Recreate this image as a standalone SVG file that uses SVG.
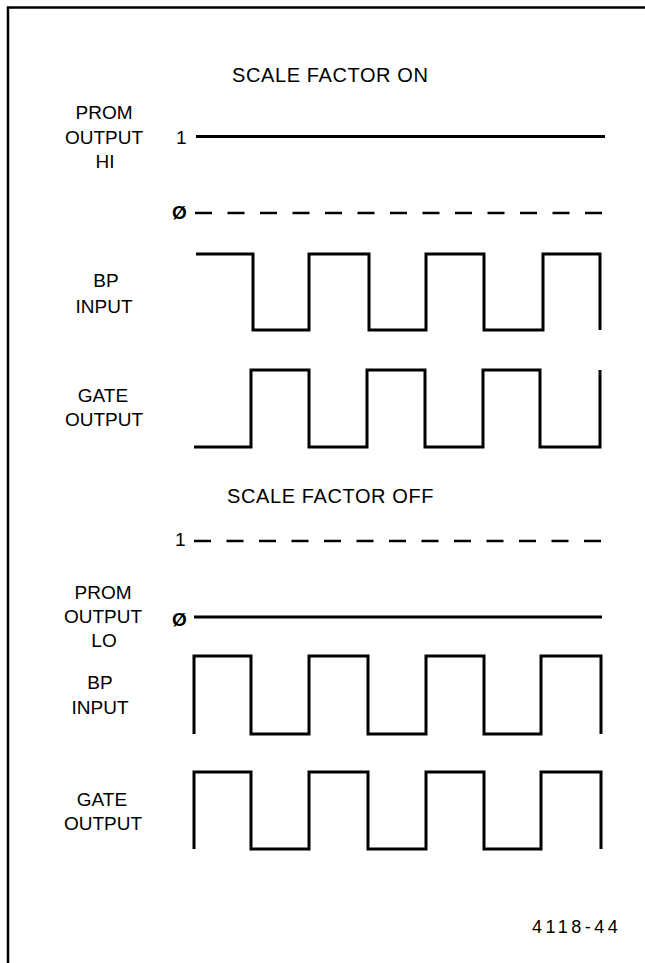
<svg xmlns="http://www.w3.org/2000/svg" width="645" height="963" viewBox="0 0 645 963">
<style>
.t{font-family:"Liberation Sans",Arial,sans-serif;font-size:19px;fill:#000}
.h{font-family:"Liberation Sans",Arial,sans-serif;font-size:20px;letter-spacing:0.6px;fill:#000}
.m{text-anchor:middle}
.z{font-weight:bold}
.w{fill:none;stroke:#000;stroke-width:3;stroke-linejoin:miter;stroke-linecap:butt}
.d{fill:none;stroke:#000;stroke-width:2.5;stroke-dasharray:17 15.5}
.b{fill:none;stroke:#000;stroke-width:2.5}
</style>
<rect width="645" height="963" fill="#fff"/>
<g id="frame"><path class="b" d="M8,963 V7.5 H645"/></g>
<g id="titles">
<text class="h" x="232" y="82">SCALE FACTOR ON</text>
<text class="h" x="227" y="503">SCALE FACTOR OFF</text>
<text class="t" x="532" y="933" style="font-size:18px;letter-spacing:3.5px">4118-44</text>
</g>
<g id="labels-on">
<text class="t m" x="104" y="119">PROM</text>
<text class="t m" x="104" y="144">OUTPUT</text>
<text class="t m" x="105" y="168">HI</text>
<text class="t" x="176" y="144">1</text>
<text class="t z" x="172" y="219">Ø</text>
<text class="t m" x="106" y="287">BP</text>
<text class="t m" x="104" y="313">INPUT</text>
<text class="t m" x="103" y="402">GATE</text>
<text class="t m" x="104" y="426">OUTPUT</text>
</g>
<g id="labels-off">
<text class="t" x="175" y="546">1</text>
<text class="t m" x="103" y="599">PROM</text>
<text class="t m" x="103" y="623">OUTPUT</text>
<text class="t m" x="104" y="647">LO</text>
<text class="t z" x="172" y="626">Ø</text>
<text class="t m" x="100" y="689">BP</text>
<text class="t m" x="100" y="714">INPUT</text>
<text class="t m" x="102" y="806">GATE</text>
<text class="t m" x="103" y="830">OUTPUT</text>
</g>
<g id="connectors">
<path class="w" d="M196,136.5 H605"/>
<path class="d" d="M195,213 H602"/>
<path class="w" d="M196,254 H253 V330 H309 V254 H369 V330 H426 V254 H484 V330 H543 V254 H600 V330"/>
<path class="w" d="M194,447 H251 V370 H309 V447 H367 V370 H425 V447 H483 V370 H540 V447 H600 V370"/>
<path class="d" d="M194,541 H602"/>
<path class="w" d="M194,617 H602"/>
<path class="w" d="M194,734 V656 H251 V734 H309 V656 H368 V734 H426 V656 H484 V734 H541 V656 H601 V734"/>
<path class="w" d="M194,849 V772 H251 V849 H309 V772 H368 V849 H426 V772 H484 V849 H541 V772 H601 V849"/>
</g>
</svg>
